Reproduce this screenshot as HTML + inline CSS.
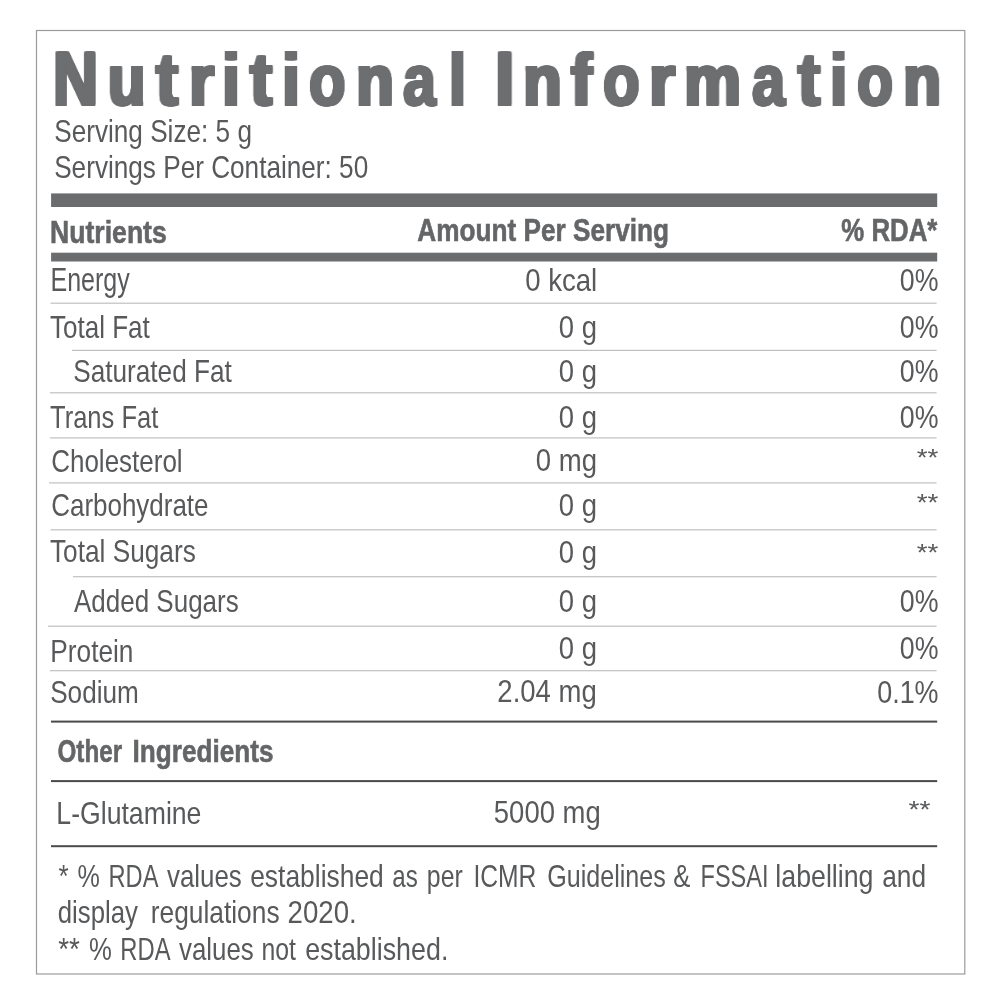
<!DOCTYPE html>
<html><head><meta charset="utf-8"><title>Nutritional Information</title>
<style>
html,body{margin:0;padding:0;background:#fff;}
body{width:1000px;height:1000px;position:relative;overflow:hidden;font-family:"Liberation Sans",sans-serif;}
#art{position:absolute;left:0;top:0;will-change:transform;}
h1{margin:0;padding:0;font-weight:normal;}
.T{position:absolute;white-space:nowrap;line-height:1;transform-origin:0 0;will-change:transform;font-size:72.0px;font-weight:700;color:#6d6e70;text-shadow:-2px -1px 0 #6d6e70,-2px 0px 0 #6d6e70,-2px 1px 0 #6d6e70,-1px -1px 0 #6d6e70,-1px 0px 0 #6d6e70,-1px 1px 0 #6d6e70,0px -1px 0 #6d6e70,0px 1px 0 #6d6e70,1px -1px 0 #6d6e70,1px 0px 0 #6d6e70,1px 1px 0 #6d6e70,2px -1px 0 #6d6e70,2px 0px 0 #6d6e70,2px 1px 0 #6d6e70;}
</style></head><body>
<svg id="art" width="1000" height="1000" viewBox="0 0 1000 1000" font-family="Liberation Sans, sans-serif" fill="#58595b">
<rect x="36.5" y="30.5" width="928.3" height="943.5" fill="none" stroke="#9b9b9b" stroke-width="1.2"/>
<rect x="51.1" y="193.4" width="886.1" height="13.6" fill="#6b6c6e"/>
<rect x="51.1" y="252.7" width="886.1" height="8.8" fill="#6b6c6e"/>
<rect x="50.5" y="302.6" width="886.1" height="1.2" fill="#c0c0c0"/>
<rect x="72" y="349.8" width="864.6" height="1.2" fill="#c0c0c0"/>
<rect x="50" y="392.2" width="886.6" height="1.2" fill="#c0c0c0"/>
<rect x="50" y="437.3" width="886.6" height="1.2" fill="#c0c0c0"/>
<rect x="49" y="482.3" width="887.6" height="1.2" fill="#c0c0c0"/>
<rect x="50.5" y="529.2" width="886.1" height="1.2" fill="#c0c0c0"/>
<rect x="73" y="576.1" width="863.6" height="1.2" fill="#c0c0c0"/>
<rect x="48" y="625.6" width="888.6" height="1.2" fill="#c0c0c0"/>
<rect x="50" y="670.1" width="886.6" height="1.2" fill="#c0c0c0"/>
<rect x="51" y="720.6" width="886.2" height="2" fill="#4a4a4c"/>
<rect x="51" y="780.1" width="886.2" height="2" fill="#4a4a4c"/>
<rect x="51" y="845.2" width="886.2" height="2" fill="#4a4a4c"/>
<text transform="translate(54.18,142.00) scale(0.8180,1)" font-size="32">Serving Size: 5 g</text>
<text transform="translate(54.18,178.00) scale(0.8175,1)" font-size="32">Servings Per Container: 50</text>
<text transform="translate(50.09,243.40) scale(0.8311,1)" font-size="32" font-weight="700" stroke="#646567" stroke-width="0.6" fill="#646567">Nutrients</text>
<text transform="translate(417.25,241.40) scale(0.8185,1)" font-size="32" font-weight="700" stroke="#646567" stroke-width="0.6" fill="#646567">Amount Per Serving</text>
<text transform="translate(841.34,241.40) scale(0.8057,1)" font-size="32" font-weight="700" stroke="#646567" stroke-width="0.6" fill="#646567">% RDA*</text>
<text transform="translate(50.46,291.00) scale(0.7707,1)" font-size="32.5">Energy</text>
<text transform="translate(525.14,291.00) scale(0.8623,1)" font-size="32">0 kcal</text>
<text transform="translate(899.86,291.00) scale(0.8371,1)" font-size="32">0%</text>
<text transform="translate(50.00,338.00) scale(0.8141,1)" font-size="32">Total Fat</text>
<text transform="translate(558.74,338.00) scale(0.8588,1)" font-size="32">0 g</text>
<text transform="translate(899.86,338.00) scale(0.8371,1)" font-size="32">0%</text>
<text transform="translate(73.18,382.00) scale(0.8187,1)" font-size="32">Saturated Fat</text>
<text transform="translate(558.74,382.00) scale(0.8588,1)" font-size="32">0 g</text>
<text transform="translate(899.86,382.00) scale(0.8371,1)" font-size="32">0%</text>
<text transform="translate(50.00,428.00) scale(0.7980,1)" font-size="32">Trans Fat</text>
<text transform="translate(558.74,428.00) scale(0.8588,1)" font-size="32">0 g</text>
<text transform="translate(899.86,428.00) scale(0.8371,1)" font-size="32">0%</text>
<text transform="translate(51.19,472.00) scale(0.8126,1)" font-size="32">Cholesterol</text>
<text transform="translate(535.74,471.00) scale(0.8604,1)" font-size="32">0 mg</text>
<text transform="translate(51.19,516.00) scale(0.8121,1)" font-size="32">Carbohydrate</text>
<text transform="translate(558.74,516.00) scale(0.8588,1)" font-size="32">0 g</text>
<text transform="translate(50.00,562.00) scale(0.8198,1)" font-size="32">Total Sugars</text>
<text transform="translate(558.74,563.00) scale(0.8588,1)" font-size="32">0 g</text>
<text transform="translate(74.00,612.00) scale(0.8126,1)" font-size="32">Added Sugars</text>
<text transform="translate(558.74,612.00) scale(0.8588,1)" font-size="32">0 g</text>
<text transform="translate(899.86,612.00) scale(0.8371,1)" font-size="32">0%</text>
<text transform="translate(50.36,662.00) scale(0.8197,1)" font-size="32">Protein</text>
<text transform="translate(558.74,659.00) scale(0.8588,1)" font-size="32">0 g</text>
<text transform="translate(899.86,659.00) scale(0.8371,1)" font-size="32">0%</text>
<text transform="translate(50.18,703.00) scale(0.8172,1)" font-size="32">Sodium</text>
<text transform="translate(497.34,702.00) scale(0.8597,1)" font-size="32">2.04 mg</text>
<text transform="translate(877.16,703.00) scale(0.8421,1)" font-size="32">0.1%</text>
<text transform="translate(57.47,762.00) scale(0.7575,1)" font-size="32" font-weight="700" stroke="#646567" stroke-width="0.6" fill="#646567">Other</text>
<text transform="translate(132.61,762.00) scale(0.8169,1)" font-size="32" font-weight="700" stroke="#646567" stroke-width="0.6" fill="#646567">Ingredients</text>
<text transform="translate(56.33,824.00) scale(0.8327,1)" font-size="32">L-Glutamine</text>
<text transform="translate(493.84,823.00) scale(0.8584,1)" font-size="32">5000 mg</text>
<text transform="translate(58.60,887.00) scale(0.8167,1)" font-size="32">*</text>
<text transform="translate(77.61,887.00) scale(0.7852,1)" font-size="32">%</text>
<text transform="translate(108.52,887.00) scale(0.7400,1)" font-size="32">RDA</text>
<text transform="translate(167.00,887.00) scale(0.8087,1)" font-size="32">values</text>
<text transform="translate(250.17,887.00) scale(0.8259,1)" font-size="32">established</text>
<text transform="translate(392.25,887.00) scale(0.7548,1)" font-size="32">as</text>
<text transform="translate(426.85,887.00) scale(0.7759,1)" font-size="32">per</text>
<text transform="translate(473.46,887.00) scale(0.7704,1)" font-size="32">ICMR</text>
<text transform="translate(547.22,887.00) scale(0.7842,1)" font-size="32">Guidelines</text>
<text transform="translate(673.20,887.00) scale(0.8000,1)" font-size="32">&amp;</text>
<text transform="translate(700.53,887.00) scale(0.7353,1)" font-size="32">FSSAI</text>
<text transform="translate(775.33,887.00) scale(0.8361,1)" font-size="32">labelling</text>
<text transform="translate(882.18,887.00) scale(0.8222,1)" font-size="32">and</text>
<text transform="translate(57.79,923.00) scale(0.8052,1)" font-size="32">display</text>
<text transform="translate(150.75,923.00) scale(0.8232,1)" font-size="32">regulations</text>
<text transform="translate(287.54,923.00) scale(0.8650,1)" font-size="32">2020.</text>
<text transform="translate(58.20,960.00) scale(0.8711,1)" font-size="32">**</text>
<text transform="translate(89.00,960.00) scale(0.8037,1)" font-size="32">%</text>
<text transform="translate(120.31,960.00) scale(0.7430,1)" font-size="32">RDA</text>
<text transform="translate(179.00,960.00) scale(0.8087,1)" font-size="32">values</text>
<text transform="translate(261.45,960.00) scale(0.7748,1)" font-size="32">not</text>
<text transform="translate(305.16,960.00) scale(0.8389,1)" font-size="32">established.</text>
<text transform="translate(916.70,465.70) scale(1.1614,1)" font-size="24">**</text>
<text transform="translate(916.70,511.30) scale(1.1614,1)" font-size="24">**</text>
<text transform="translate(916.70,560.50) scale(1.1614,1)" font-size="24">**</text>
<text transform="translate(908.50,818.00) scale(1.1723,1)" font-size="24">**</text>
</svg>
<h1 aria-label="Nutritional Information">
<div class="T" style="left:52.57px;top:39.60px;transform:scaleX(0.8100);font-size:76.8px">N</div>
<div class="T" style="left:108.05px;top:44.00px;transform:scaleX(0.8500)">u</div>
<div class="T" style="left:156.19px;top:42.50px;transform:scaleX(0.8929);font-size:74.0px">t</div>
<div class="T" style="left:188.79px;top:44.00px;transform:scaleX(0.9037)">r</div>
<div class="T" style="left:222.32px;top:44.00px;transform:scaleX(0.8929)">i</div>
<div class="T" style="left:249.89px;top:42.50px;transform:scaleX(0.8929);font-size:74.0px">t</div>
<div class="T" style="left:281.72px;top:44.00px;transform:scaleX(0.8929)">i</div>
<div class="T" style="left:309.05px;top:44.00px;transform:scaleX(0.8272);text-shadow:-1.7px -1px 0 #6d6e70,-1.7px 0px 0 #6d6e70,-1.7px 1px 0 #6d6e70,-0.85px -1px 0 #6d6e70,-0.85px 0px 0 #6d6e70,-0.85px 1px 0 #6d6e70,0px -1px 0 #6d6e70,0px 1px 0 #6d6e70,0.85px -1px 0 #6d6e70,0.85px 0px 0 #6d6e70,0.85px 1px 0 #6d6e70,1.7px -1px 0 #6d6e70,1.7px 0px 0 #6d6e70,1.7px 1px 0 #6d6e70">o</div>
<div class="T" style="left:355.53px;top:44.00px;transform:scaleX(0.8588)">n</div>
<div class="T" style="left:402.89px;top:44.00px;transform:scaleX(0.8214);text-shadow:-1.5px -1px 0 #6d6e70,-1.5px 0px 0 #6d6e70,-1.5px 1px 0 #6d6e70,-0.75px -1px 0 #6d6e70,-0.75px 0px 0 #6d6e70,-0.75px 1px 0 #6d6e70,0px -1px 0 #6d6e70,0px 1px 0 #6d6e70,0.75px -1px 0 #6d6e70,0.75px 0px 0 #6d6e70,0.75px 1px 0 #6d6e70,1.5px -1px 0 #6d6e70,1.5px 0px 0 #6d6e70,1.5px 1px 0 #6d6e70">a</div>
<div class="T" style="left:448.71px;top:44.00px;transform:scaleX(0.8464)">l</div>
<div class="T" style="left:495.08px;top:39.60px;transform:scaleX(0.9062);font-size:76.8px">I</div>
<div class="T" style="left:523.25px;top:44.00px;transform:scaleX(0.8750)">n</div>
<div class="T" style="left:570.88px;top:44.00px;transform:scaleX(0.8750)">f</div>
<div class="T" style="left:603.00px;top:44.00px;transform:scaleX(0.8295);text-shadow:-1.7px -1px 0 #6d6e70,-1.7px 0px 0 #6d6e70,-1.7px 1px 0 #6d6e70,-0.85px -1px 0 #6d6e70,-0.85px 0px 0 #6d6e70,-0.85px 1px 0 #6d6e70,0px -1px 0 #6d6e70,0px 1px 0 #6d6e70,0.85px -1px 0 #6d6e70,0.85px 0px 0 #6d6e70,0.85px 1px 0 #6d6e70,1.7px -1px 0 #6d6e70,1.7px 0px 0 #6d6e70,1.7px 1px 0 #6d6e70">o</div>
<div class="T" style="left:649.40px;top:44.00px;transform:scaleX(0.9259)">r</div>
<div class="T" style="left:684.48px;top:44.00px;transform:scaleX(0.8875)">m</div>
<div class="T" style="left:751.59px;top:44.00px;transform:scaleX(0.8274);text-shadow:-1.5px -1px 0 #6d6e70,-1.5px 0px 0 #6d6e70,-1.5px 1px 0 #6d6e70,-0.75px -1px 0 #6d6e70,-0.75px 0px 0 #6d6e70,-0.75px 1px 0 #6d6e70,0px -1px 0 #6d6e70,0px 1px 0 #6d6e70,0.75px -1px 0 #6d6e70,0.75px 0px 0 #6d6e70,0.75px 1px 0 #6d6e70,1.5px -1px 0 #6d6e70,1.5px 0px 0 #6d6e70,1.5px 1px 0 #6d6e70">a</div>
<div class="T" style="left:798.04px;top:42.50px;transform:scaleX(0.8929);font-size:74.0px">t</div>
<div class="T" style="left:829.93px;top:44.00px;transform:scaleX(0.8571)">i</div>
<div class="T" style="left:856.75px;top:44.00px;transform:scaleX(0.8180);text-shadow:-1.7px -1px 0 #6d6e70,-1.7px 0px 0 #6d6e70,-1.7px 1px 0 #6d6e70,-0.85px -1px 0 #6d6e70,-0.85px 0px 0 #6d6e70,-0.85px 1px 0 #6d6e70,0px -1px 0 #6d6e70,0px 1px 0 #6d6e70,0.85px -1px 0 #6d6e70,0.85px 0px 0 #6d6e70,0.85px 1px 0 #6d6e70,1.7px -1px 0 #6d6e70,1.7px 0px 0 #6d6e70,1.7px 1px 0 #6d6e70">o</div>
<div class="T" style="left:903.27px;top:44.00px;transform:scaleX(0.8625)">n</div>
</h1>
</body></html>
